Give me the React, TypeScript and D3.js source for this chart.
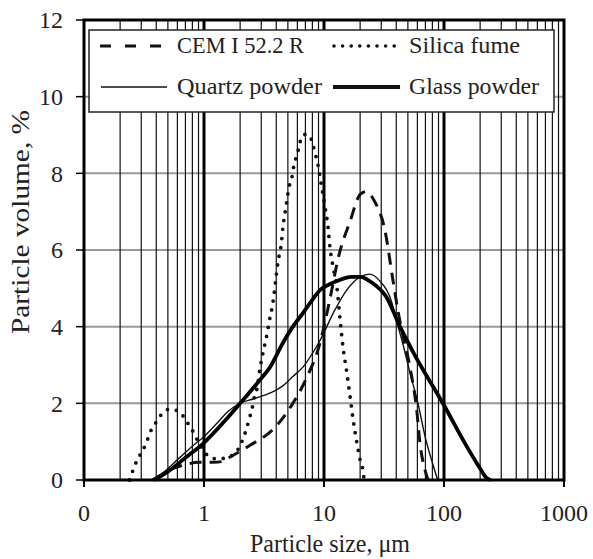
import React from "react";
import * as d3 from "d3";

const xTickValues = [0.1, 1, 10, 100, 1000];
const xTickLabels = ["0", "1", "10", "100", "1000"];
const yTickValues = [0, 2, 4, 6, 8, 10, 12];

const cem: [number, number][] = [
  [0.38, 0], [0.45, 0.15], [0.55, 0.3], [0.7, 0.4], [0.9, 0.46], [1.2, 0.46], [1.4, 0.48],
  [1.65, 0.6], [2.4, 0.9], [3.9, 1.37], [5.4, 1.96], [7, 2.6], [9.4, 3.65], [11, 4.6],
  [13.4, 5.9], [16.5, 6.75], [20, 7.45], [22.4, 7.52], [26.6, 7.25], [32, 6.55], [37.6, 5.2],
  [41.4, 4.4], [46, 3.7], [52, 2.95], [59.6, 1.75], [63, 0.97], [69.5, 0.26], [73.6, 0],
];

const silica: [number, number][] = [
  [0.24, 0], [0.26, 0.31], [0.28, 0.55], [0.31, 0.78], [0.335, 1.02], [0.36, 1.28], [0.4, 1.51],
  [0.45, 1.74], [0.52, 1.85], [0.63, 1.77], [0.71, 1.54], [0.79, 1.33], [0.87, 1.07],
  [0.98, 0.81], [1.08, 0.63], [1.3, 0.55], [1.6, 0.6], [1.92, 0.8], [2.11, 1.07], [2.24, 1.3],
  [2.37, 1.57], [2.51, 1.85], [2.61, 2.12], [2.77, 2.4], [2.93, 2.92], [3.04, 3.18],
  [3.16, 3.44], [3.29, 3.68], [3.41, 3.94], [3.55, 4.25], [3.69, 4.49], [3.8, 4.75],
  [3.98, 5.27], [4.14, 5.7], [4.38, 6.1], [4.55, 6.6], [4.82, 7.12], [5.11, 7.64], [5.41, 7.9],
  [5.62, 8.22], [5.96, 8.48], [6.19, 8.69], [6.56, 8.97], [7.1, 9.02], [7.64, 8.97],
  [8.09, 8.74], [8.5, 8.48], [8.91, 8.22], [9.44, 7.75], [10.2, 7.12], [10.8, 6.6],
  [11.2, 6.08], [11.9, 5.56], [12.8, 5.04], [13.6, 4.2], [14.4, 3.47], [15.5, 2.8],
  [16.5, 2.17], [17.5, 1.57], [18.8, 0.97], [20, 0.52], [21.1, 0.26], [21.6, 0],
];

const quartz: [number, number][] = [
  [0.36, 0], [0.45, 0.18], [0.55, 0.42], [0.7, 0.72], [0.85, 0.95], [1, 1.13], [1.3, 1.5],
  [1.6, 1.8], [2, 2.0], [2.6, 2.12], [3.56, 2.27], [4.5, 2.45], [5.5, 2.7], [6.7, 2.95],
  [8, 3.3], [9.3, 3.65], [12.3, 4.43], [15.5, 4.96], [20, 5.3], [24, 5.37], [29, 5.2],
  [37, 4.6], [40.6, 4.1], [45, 3.6], [52, 2.8], [60.7, 2.0], [70, 1.1], [80, 0.45], [88.6, 0],
];

const glass: [number, number][] = [
  [0.38, 0], [0.5, 0.22], [0.7, 0.58], [1, 0.97], [1.5, 1.55], [2, 2.0], [3, 2.65],
  [3.56, 2.95], [4.5, 3.55], [5.5, 4.0], [6.7, 4.36], [8, 4.7], [9.3, 4.96], [11, 5.1],
  [13, 5.2], [17, 5.3], [20, 5.3], [25, 5.15], [33, 4.78], [43, 4.0], [55, 3.35],
  [100, 1.95], [150, 0.95], [200, 0.3], [225, 0.06], [245, 0],
];

const W = 593;
const H = 559;
const L = 84, R = 564, T = 20, B = 480;
const FONT = "'Liberation Serif', 'Times New Roman', serif";

export default function App() {
  const x = d3.scaleLog().domain([0.1, 1000]).range([L, R]);
  const y = d3.scaleLinear().domain([0, 12]).range([B, T]);
  const line = d3
    .line<[number, number]>()
    .x((d) => x(d[0]))
    .y((d) => y(d[1]))
    .curve(d3.curveMonotoneX);

  const minor: number[] = [];
  for (let dec = 0.1; dec < 1000; dec *= 10) {
    for (let k = 2; k <= 9; k++) minor.push(dec * k);
  }
  const major = [1, 10, 100];
  const hGrid = [2, 4, 6, 8, 10];

  const legendItems = [
    { label: "CEM I 52.2 R", x1: 100, x2: 164, tx: 177, ty: 53, len: 127, style: { strokeWidth: 3, strokeDasharray: "11,14" } },
    { label: "Silica fume", x1: 334, x2: 398, tx: 409, ty: 53, len: 111, style: { strokeWidth: 3.6, strokeDasharray: "0,8.6", strokeLinecap: "round" as const } },
    { label: "Quartz powder", x1: 101, x2: 167, tx: 177, ty: 94, len: 145, style: { strokeWidth: 1.4 } },
    { label: "Glass powder", x1: 333, x2: 400, tx: 409, ty: 94, len: 130, style: { strokeWidth: 3.8 } },
  ];

  return (
    <svg width={W} height={H} style={{ position: "absolute", left: 0, top: 0, background: "#fff" }} fontFamily={FONT}>
      <rect x={0} y={0} width={W} height={H} fill="#fff" />
      {hGrid.map((v) => (
        <line key={"h" + v} x1={L} x2={R} y1={y(v)} y2={y(v)} stroke="#9a9a9a" strokeWidth={2} />
      ))}
      {minor.map((v, i) => (
        <line key={"m" + i} x1={x(v)} x2={x(v)} y1={T} y2={B} stroke="#111" strokeWidth={1.2} />
      ))}
      {major.map((v) => (
        <line key={"M" + v} x1={x(v)} x2={x(v)} y1={T} y2={B} stroke="#000" strokeWidth={3} />
      ))}
      {yTickValues.map((v) => (
        <g key={"yt" + v}>
          <line x1={L - 8} x2={L} y1={y(v)} y2={y(v)} stroke="#000" strokeWidth={1.5} />
          <text x={63} y={y(v)} dy="0.35em" textAnchor="end" fontSize={24} fill="#222">
            {v}
          </text>
        </g>
      ))}
      {xTickValues.map((v, i) => (
        <g key={"xt" + v}>
          <line x1={x(v)} x2={x(v)} y1={B} y2={B + 7} stroke="#000" strokeWidth={2} />
          <text x={x(v)} y={521} textAnchor="middle" fontSize={24} fill="#222">
            {xTickLabels[i]}
          </text>
        </g>
      ))}
      <path d={line(silica) || ""} fill="none" stroke="#111" strokeWidth={3.8} strokeDasharray="0,9" strokeLinecap="round" />
      <path d={line(cem) || ""} fill="none" stroke="#111" strokeWidth={3} strokeDasharray="12,8" />
      <path d={line(quartz) || ""} fill="none" stroke="#111" strokeWidth={1.4} />
      <path d={line(glass) || ""} fill="none" stroke="#000" strokeWidth={3.8} />
      <rect x={L} y={T} width={R - L} height={B - T} fill="none" stroke="#000" strokeWidth={3} />
      <rect x={89} y={30} width={465} height={82} fill="#fff" stroke="#222" strokeWidth={1.5} />
      {legendItems.map((it) => (
        <g key={it.label}>
          <line x1={it.x1} x2={it.x2} y1={it.ty - 7} y2={it.ty - 7} stroke="#111" {...it.style} />
          <text x={it.tx} y={it.ty} fontSize={23} fill="#222" textLength={it.len} lengthAdjust="spacingAndGlyphs">
            {it.label}
          </text>
        </g>
      ))}
      <text x={330} y={552} textAnchor="middle" fontSize={25} fill="#222" textLength={160} lengthAdjust="spacingAndGlyphs">
        Particle size, μm
      </text>
      <text transform={`translate(29, 222) rotate(-90)`} textAnchor="middle" fontSize={26} fill="#222" textLength={224} lengthAdjust="spacingAndGlyphs">
        Particle volume, %
      </text>
    </svg>
  );
}
